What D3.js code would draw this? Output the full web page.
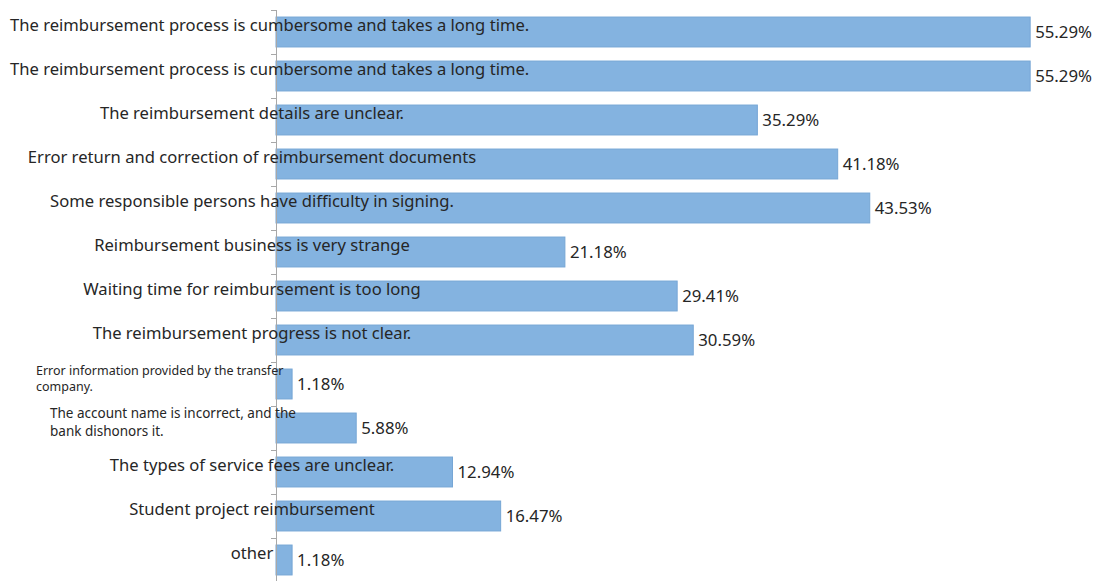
<!DOCTYPE html>
<html>
<head>
<meta charset="utf-8">
<script src="https://cdn.jsdelivr.net/npm/d3@7"></script>
<style>
  html, body { margin: 0; padding: 0; background: #fff; }
  svg { display: block; }
</style>
</head>
<body>
<svg id="chart" width="1109" height="581"></svg>
<script>
// Reasons given for reimbursement difficulties (share of respondents, %)
const categories = [
  "The reimbursement process is cumbersome and takes a long time.",
  "The reimbursement process is cumbersome and takes a long time.",
  "The reimbursement details are unclear.",
  "Error return and correction of reimbursement documents",
  "Some responsible persons have difficulty in signing.",
  "Reimbursement business is very strange",
  "Waiting time for reimbursement is too long",
  "The reimbursement progress is not clear.",
  "Error information provided by the transfer\ncompany.",
  "The account name is incorrect, and the\nbank dishonors it.",
  "The types of service fees are unclear.",
  "Student project reimbursement",
  "other"
];
const values = [55.29, 55.29, 35.29, 41.18, 43.53, 21.18, 29.41, 30.59, 1.18, 5.88, 12.94, 16.47, 1.18];
const valueLabels = ["55.29%", "55.29%", "35.29%", "41.18%", "43.53%", "21.18%", "29.41%", "30.59%", "1.18%", "5.88%", "12.94%", "16.47%", "1.18%"];

const svg = d3.select("#chart");
const W = 1109, H = 581;
const axisX = 276;
const FONT = "'Noto Sans', 'Open Sans', sans-serif";
const TEXT = "#262626";

const x = d3.scaleLinear().domain([0, 60]).range([axisX, axisX + 60 * 13.64]);
const y = d3.scaleBand()
  .domain(d3.range(categories.length))
  .range([10, 582])
  .paddingInner(0.32)
  .paddingOuter(0.16);

// bars
svg.append("g").selectAll("rect")
  .data(values)
  .join("rect")
  .attr("x", x(0))
  .attr("y", (d, i) => y(i))
  .attr("width", d => x(d) - x(0))
  .attr("height", y.bandwidth())
  .attr("fill", "#84b3e0")
  .attr("stroke", "#76a6d5")
  .attr("stroke-width", 1);

// category axis: vertical line with ticks at band boundaries
const axisG = svg.append("g");
axisG.append("line")
  .attr("x1", axisX + 0.5).attr("x2", axisX + 0.5)
  .attr("y1", y.range()[0]).attr("y2", H)
  .attr("stroke", "#a8a8a8").attr("stroke-width", 1);
axisG.selectAll("line.tick")
  .data(d3.range(categories.length))
  .join("line")
  .attr("class", "tick")
  .attr("x1", axisX - 5).attr("x2", axisX)
  .attr("y1", i => Math.round(y(i) - y.step() * y.paddingOuter()) + 0.5)
  .attr("y2", i => Math.round(y(i) - y.step() * y.paddingOuter()) + 0.5)
  .attr("stroke", "#a8a8a8");

// value labels at bar ends
svg.append("g").selectAll("text")
  .data(values)
  .join("text")
  .attr("x", d => x(d) + 5)
  .attr("y", (d, i) => y(i) + y.bandwidth() / 2 + 6)
  .attr("font-family", FONT)
  .attr("font-size", 16.8)
  .attr("fill", TEXT)
  .text((d, i) => valueLabels[i]);

// category labels, centred near the axis; long labels wrap and shrink
const labelG = svg.append("g");
const measure = svg.append("text").attr("font-family", FONT).attr("visibility", "hidden");
function textWidth(s, size) {
  measure.attr("font-size", size).text(s);
  return measure.node().getComputedTextLength();
}
categories.forEach((label, i) => {
  const cy = y(i) + y.bandwidth() / 2;
  const lines = label.split("\n");
  if (lines.length === 1) {
    const size = 16.6;
    const w = textWidth(label, size);
    const cx = Math.max(252, 10 + w / 2);
    labelG.append("text")
      .attr("x", cx)
      .attr("y", cy - 1)
      .attr("text-anchor", "middle")
      .attr("font-family", FONT)
      .attr("font-size", size)
      .attr("fill", TEXT)
      .text(label);
  } else {
    let size = 14;
    while (d3.max(lines, l => textWidth(l, size)) > 250 && size > 9) size -= 0.25;
    const lh = size * 1.3;
    const left = 57 - (14 - size) * 14;
    const t = labelG.append("text")
      .attr("font-family", FONT)
      .attr("font-size", size)
      .attr("fill", TEXT);
    lines.forEach((l, k) => {
      t.append("tspan")
        .attr("x", left)
        .attr("y", cy - 1 + (k - (lines.length - 1) / 2) * lh)
        .text(l);
    });
  }
});
measure.remove();
</script>
</body>
</html>
